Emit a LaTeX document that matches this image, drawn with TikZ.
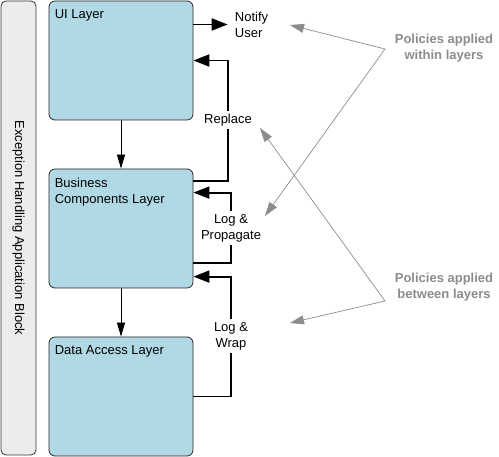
\documentclass[tikz,border=0pt]{standalone}
\usepackage{fontspec}
\setmainfont{Liberation Sans}
\usetikzlibrary{arrows.meta}
\definecolor{layerblue}{HTML}{B0D9E5}
\definecolor{bargray}{HTML}{EDEBEE}
\definecolor{hintgray}{HTML}{8C8C8C}
\begin{document}
\begin{tikzpicture}[
            x=1pt, y=-1pt,
            font=\fontsize{13}{16}\selectfont,
            layer node/.style={draw=black!85,fill=layerblue,rounded corners=6pt,minimum width=144pt,minimum height=119pt,line width=0.8pt},
            layer name/.style={anchor=north west,inner sep=0pt,xshift=6pt,yshift=-9pt,align=left},
            policy node/.style={inner sep=3pt,fill=white,align=center},
            every edge/.style={draw,line width=0.8pt,-{Triangle[length=14pt,width=8pt]}},
            policy line/.style={draw,line width=1.9pt},
            policy arrow/.style={policy line,-{Triangle[length=16pt,width=12pt]}},
            hint/.style={font=\fontsize{13}{16}\selectfont\bfseries,text=hintgray,align=center},
            hint line/.style={draw=hintgray,line width=0.7pt,-{Triangle[length=14pt,width=9pt]}},
        ]
            \useasboundingbox (0,0) rectangle (499,457);

            \node[draw=black!80,fill=bargray,rounded corners=5pt,rotate=-90,minimum width=454pt,minimum height=35pt,line width=0.8pt] (block) at (18.5,228) {Exception Handling Application Block};

            \node[layer node,label={[layer name]north west:UI Layer}] (ui) at (121,60.5) {};
            \node[layer node,label={[layer name]north west:Business\\Components Layer}] (bcl) at (121,228.5) {};
            \node[layer node,label={[layer name]north west:Data Access Layer}] (dal) at (121,396.5) {};

            \node[policy node,inner sep=7pt,align=left] (notify) at (251.5,24.5) {Notify\\User};
            \node[policy node] (replace) at (228,120) {Replace};
            \node[policy node] (propagate) at (231,228) {Log \&\\Propagate};
            \node[policy node] (wrap) at (231,336) {Log \&\\Wrap};

            \node[hint] (within) at (444,48) {Policies applied\\within layers};
            \node[hint] (between) at (444,287) {Policies applied\\between layers};
            \coordinate (wj) at (385,49);
            \coordinate (bj) at (385,301);
            \coordinate (tipN) at (290,25);
            \coordinate (tipP) at (265,216);
            \coordinate (tipR) at (260,128);
            \coordinate (tipW) at (290,323);

            \path (ui) edge (bcl);
            \path (bcl) edge (dal);

            \draw[policy arrow] (ui.east |- notify.west) -- (notify.west);
            \draw[policy line] ([yshift=-12pt]bcl.north east) -| (replace);
            \draw[policy arrow] (replace) |- (ui.east);
            \draw[policy line] ([yshift=-94pt]bcl.north east) -| (propagate);
            \draw[policy arrow] (propagate) |- ([yshift=-24pt]bcl.north east);
            \draw[policy line] (dal.east) -| (wrap);
            \draw[policy arrow] (wrap) |- ([yshift=-108pt]bcl.north east);

            \path (wj) edge[hint line] (tipN) edge[hint line] (tipP);
            \path (bj) edge[hint line] (tipR) edge[hint line] (tipW);
        \end{tikzpicture}
\end{document}
